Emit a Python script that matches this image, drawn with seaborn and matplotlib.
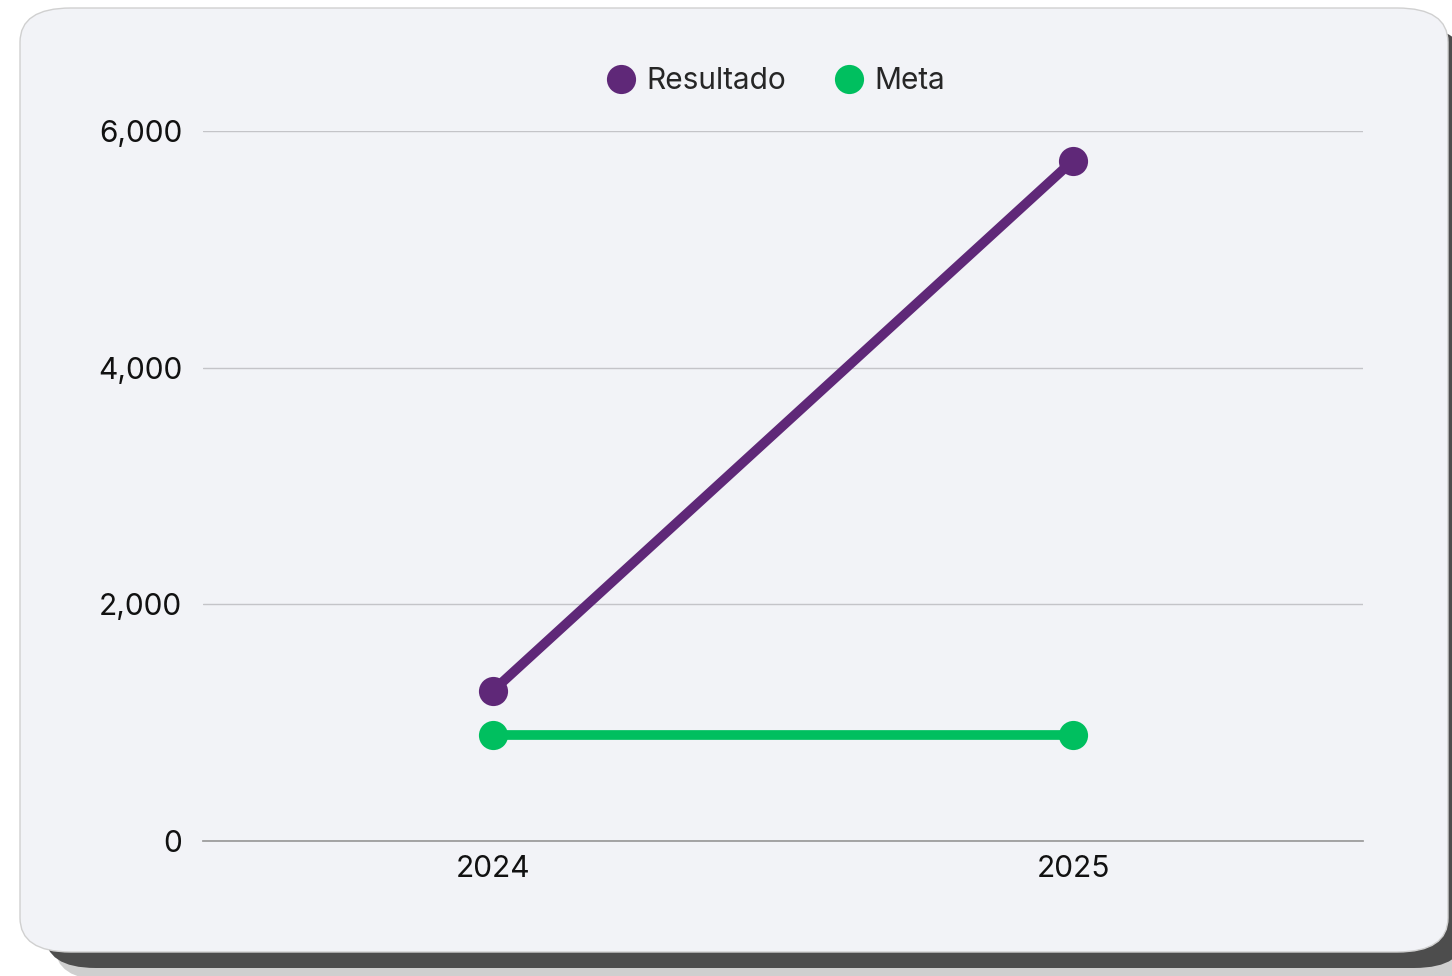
import pandas as pd
import numpy as np
import seaborn as sns
import matplotlib.pyplot as plt
from matplotlib.patches import FancyBboxPatch
from matplotlib.lines import Line2D

# dados
anos = ["2024", "2025"]
resultado = [1270, 5750]
meta = [900, 900]
series = ["Resultado", "Meta"]
cores = {"Resultado": "#5f2878", "Meta": "#00bf5f"}

df = pd.DataFrame({
    "ano": anos * 2,
    "valor": resultado + meta,
    "serie": ["Resultado"] * len(anos) + ["Meta"] * len(anos),
})

sns.set_theme(style="white")
plt.rcParams["font.family"] = ["Inter", "DejaVu Sans"]

fig = plt.figure(figsize=(14.52, 9.76), dpi=100)
fig.patch.set_facecolor("white")

# cartao com sombra
borda = FancyBboxPatch((55 / 1452, 1 - 980 / 976), 1420 / 1452, 940 / 976,
                       boxstyle="round,pad=0,rounding_size=0.035",
                       transform=fig.transFigure, facecolor="#cfcfcf",
                       edgecolor="none", zorder=0)
sombra = FancyBboxPatch((45 / 1452, 1 - 968 / 976), 1420 / 1452, 940 / 976,
                        boxstyle="round,pad=0,rounding_size=0.035",
                        transform=fig.transFigure, facecolor="#4d4d4d",
                        edgecolor="none", zorder=0.5)
cartao = FancyBboxPatch((20 / 1452, 1 - 952 / 976), 1428 / 1452, 944 / 976,
                        boxstyle="round,pad=0,rounding_size=0.035",
                        transform=fig.transFigure, facecolor="#f2f3f7",
                        edgecolor="#d0d0d0", linewidth=1, zorder=1)
fig.patches.extend([borda, sombra, cartao])

ax = fig.add_axes([203 / 1452, 1 - 841 / 976, 1160 / 1452, 710 / 976])
ax.set_facecolor("none")
ax.set_zorder(2)

sns.lineplot(data=df, x="ano", y="valor", hue="serie", hue_order=series[::-1],
             palette=cores, linewidth=7, marker="o", markersize=21,
             markeredgewidth=0, legend=False, ax=ax)

ax.set_xlim(-0.5, 1.5)
ax.set_ylim(0, 6000)
ax.set_yticks([0, 2000, 4000, 6000])
ax.set_yticklabels([f"{v:,}" for v in [0, 2000, 4000, 6000]])
ax.yaxis.grid(True, color="#c4c4c8", linewidth=1)
ax.set_axisbelow(True)
for s in ["top", "right", "left"]:
    ax.spines[s].set_visible(False)
ax.spines["bottom"].set_color("#9a9a9a")
ax.tick_params(axis="both", length=0, labelsize=21.5, colors="#111111")
ax.tick_params(axis="y", pad=15)
ax.tick_params(axis="x", pad=10)
ax.set_xlabel("")
ax.set_ylabel("")

handles = [Line2D([], [], marker="o", linestyle="", markersize=21,
                  markerfacecolor=cores[s], markeredgewidth=0) for s in series]
fig.legend(handles, series, loc="center", bbox_to_anchor=(776 / 1452, 1 - 81 / 976),
           ncol=2, frameon=False, fontsize=21.5, handletextpad=0.35,
           columnspacing=1.6, handlelength=1.0)

fig.savefig("out.png", dpi=100, facecolor="white")
